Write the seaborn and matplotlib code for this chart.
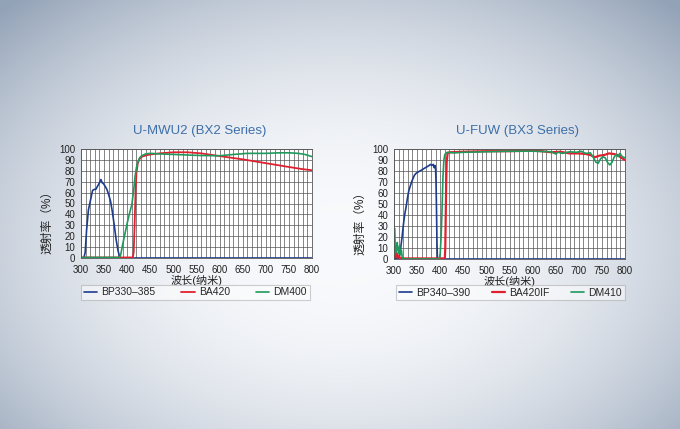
import numpy as np
import seaborn as sns
import matplotlib
matplotlib.use("Agg")
import matplotlib.pyplot as plt

# ---- U-MWU2 (BX2 Series) ----
bp330_x = [300, 306, 309, 312, 316, 320, 325, 329, 332, 336, 340, 343, 346, 349, 352, 356, 360,
           364, 368, 372, 376, 380, 383, 386, 390, 800]
bp330_y = [0, 0, 5, 25, 44, 52, 62, 63, 63, 66, 69, 72, 69, 68, 66, 63, 58,
           52, 42, 30, 17, 7, 2, 0, 0, 0]

ba420_x = [300, 412, 414, 416, 418, 420, 423, 427, 432, 440, 450, 470, 500, 530, 560, 600,
           650, 700, 750, 780, 800]
ba420_y = [0.5, 0.5, 5, 30, 60, 78, 87, 91, 93, 94, 95, 96, 97, 97, 96, 93.5,
           90.5, 87, 83.5, 81.5, 80.5]

dm400_x = [300, 383, 386, 390, 395, 400, 405, 410, 414, 417, 420, 423, 427, 432, 440, 450, 470,
           500, 530, 560, 600, 630, 660, 700, 730, 750, 770, 785, 800]
dm400_y = [0.5, 0.5, 3, 12, 22, 32, 41, 49, 62, 75, 83, 88, 92, 94, 95.5, 96, 95.5,
           95, 94.5, 94, 93.8, 95, 96, 96, 96.5, 96.5, 96, 95, 93]

# ---- U-FUW (BX3 Series) ----
bp340_x = [300, 302, 304, 306, 308, 310, 312, 314, 316, 318, 320, 323, 326, 329, 332, 335, 338,
           341, 344, 348, 352, 356, 360, 364, 368, 372, 376, 379, 382, 385, 387, 389, 390, 391,
           392, 393, 394, 396, 800]
bp340_y = [1, 3, 0, 2, 0, 1, 3, 8, 15, 22, 30, 40, 47, 55, 62, 66, 70,
           73, 76, 78, 79, 80, 81, 82, 83, 84, 85, 86, 85, 86, 83, 85, 82, 70,
           45, 15, 0, 0, 0]

ba420if_x = [300, 301, 302, 303, 304, 306, 308, 310, 313, 318, 410, 411, 412, 413, 414, 416, 420,
             450, 500, 550, 600, 620, 640, 660, 680, 700, 715, 725, 735, 745, 755, 765, 775,
             785, 792, 800]
ba420if_y = [2, 6, 3, 7, 2, 5, 1, 3, 1, 0.5, 0.5, 10, 40, 70, 88, 96, 97,
             97.5, 98, 98, 98.5, 98, 97, 97.5, 96, 96, 95.5, 94.5, 92.5, 94, 94.5, 96, 95.5,
             94.5, 92, 90]

dm410_x = [300, 301, 302, 303, 305, 307, 308, 310, 312, 314, 316, 318, 320, 398, 400, 402, 404,
           406, 408, 410, 415, 430, 450, 500, 550, 600, 640, 650, 655, 665, 680, 695, 705, 715,
           725, 732, 737, 742, 747, 752, 757, 762, 767, 772, 777, 781, 785, 789, 794, 800]
dm410_y = [5, 28, 18, 5, 8, 15, 10, 5, 12, 4, 8, 1, 0, 0, 5, 20, 45,
           75, 90, 95, 97, 96.5, 97, 97.5, 98, 98, 97.5, 95.5, 97, 96, 97.5, 97, 98, 96,
           96.5, 92, 88, 87, 91, 93, 92, 88, 85.5, 88, 93, 95, 93, 96, 93, 92]

x_ticks = list(range(300, 801, 50))
y_ticks = list(range(0, 101, 10))

BLUE, RED, GREEN = "#1d3c8c", "#e0202e", "#1f9a5c"

sns.set_style("white")
plt.rcParams["font.family"] = ["Liberation Sans", "Noto Sans CJK SC", "DejaVu Sans"]

fig = plt.figure(figsize=(6.8, 4.29), dpi=100)

# soft radial backdrop
bg = fig.add_axes([0, 0, 1, 1], zorder=-5)
yy, xx = np.mgrid[0:429, 0:680]
r = np.sqrt(((xx - 340) / 480.0) ** 2 + ((yy - 245) / 330.0) ** 2)
t = np.clip(r, 0, 1.1) ** 2.2
t = np.clip(t, 0, 1)
c0 = np.array([0.975, 0.98, 0.99])
c1 = np.array([0.58, 0.64, 0.72])
img = c0[None, None, :] * (1 - t[..., None]) + c1[None, None, :] * t[..., None]
bg.imshow(img, aspect="auto", extent=[0, 1, 0, 1])
bg.axis("off")

panels = [
    dict(rect=[81 / 680, 1 - 258 / 429, 231 / 680, 109 / 429],
         title="U-MWU2 (BX2 Series)", tx=200, lw_red=1.3,
         series=[(bp330_x, bp330_y, BLUE, "BP330–385"),
                 (ba420_x, ba420_y, RED, "BA420"),
                 (dm400_x, dm400_y, GREEN, "DM400")],
         leg=(0.0, -0.385, 0.99, 0.12)),
    dict(rect=[394 / 680, 1 - 259 / 429, 231 / 680, 110 / 429],
         title="U-FUW (BX3 Series)", tx=517, lw_red=1.6,
         series=[(bp340_x, bp340_y, BLUE, "BP340–390"),
                 (ba420if_x, ba420if_y, RED, "BA420IF"),
                 (dm410_x, dm410_y, GREEN, "DM410")],
         leg=(0.009, -0.375, 0.99, 0.125)),
]

for p in panels:
    ax = fig.add_axes(p["rect"])
    ax.set_facecolor("white")
    for xs, ys, col, lab in p["series"]:
        lw = p["lw_red"] if col == RED else 1.2
        sns.lineplot(x=xs, y=ys, ax=ax, color=col, linewidth=lw, label=lab)
    ax.set_xlim(300, 800)
    ax.set_ylim(0, 100)
    ax.set_xticks(x_ticks)
    ax.set_xticks(range(300, 801, 10), minor=True)
    ax.set_yticks(y_ticks)
    ax.grid(True, which="both", axis="x", color="#555555", linewidth=0.5)
    ax.grid(True, which="major", axis="y", color="#555555", linewidth=0.5)
    ax.set_axisbelow(True)
    ax.tick_params(axis="both", which="both", length=0, labelsize=7, colors="#222222")
    ax.tick_params(axis="x", pad=5)
    ax.tick_params(axis="y", pad=4)
    for s in ax.spines.values():
        s.set_color("#555555")
        s.set_linewidth(0.6)
    ax.set_xlabel("波长(纳米)", fontsize=8, labelpad=0, color="#222222")
    ax.set_ylabel("透射率（%）", fontsize=8.5, color="#222222")
    ax.yaxis.set_label_coords(-0.12, 0.35)
    leg = ax.legend(loc="lower left", bbox_to_anchor=p["leg"], mode="expand", ncol=3,
                    borderaxespad=0, fontsize=7.5, handlelength=1.3, handletextpad=0.4,
                    frameon=True, fancybox=False, borderpad=0.25)
    leg.get_frame().set_edgecolor("#a0a0a0")
    leg.get_frame().set_linewidth(0.8)
    leg.get_frame().set_facecolor("white")
    leg.get_frame().set_alpha(0.5)
    fig.text(p["tx"] / 680, 1 - 131 / 429, p["title"], ha="center", va="center",
             fontsize=9.5, color="#3d6fa8")

fig.savefig("out.png", dpi=100)
